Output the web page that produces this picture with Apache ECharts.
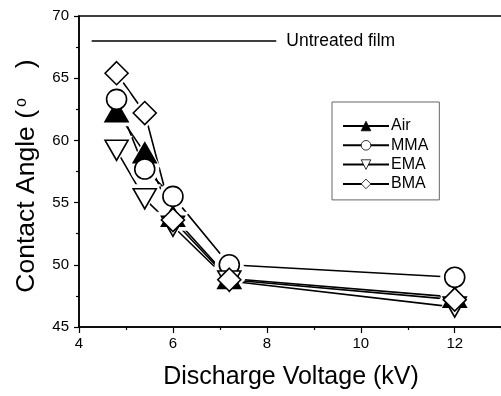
<!DOCTYPE html>
<html>
<head>
<meta charset="utf-8">
<script src="https://cdn.jsdelivr.net/npm/echarts@6/dist/echarts.min.js"></script>
<style>
  html, body { margin: 0; padding: 0; background: #fff; overflow: hidden; }
  /* the plot frame runs past the right edge of the page, so the canvas is wider than the view */
  #chart { width: 560px; height: 396px; }
</style>
</head>
<body>
<div id="chart"></div>
<script>
// Discharge voltage (kV) at which each film was treated
const voltages = [4.8, 5.4, 6.0, 7.2, 12];

// Water contact angle (degrees) per treatment gas
const airAngle = [62.3, 59.0, 53.9, 48.9, 47.4];
const mmaAngle = [63.3, 57.7, 55.5, 50.0, 49.0];
const emaAngle = [59.2, 55.3, 53.1, 48.7, 46.6];
const bmaAngle = [65.4, 62.2, 53.6, 48.8, 47.2];

// Reference level of the untreated film and the voltage span its line covers
const untreatedAngle = 68;
const untreatedSpan = [4.27, 8.2];

const seriesNames = ['Air', 'MMA', 'EMA', 'BMA'];

const FONT = 'Liberation Sans, Arial, Helvetica, sans-serif';

const groups = [
  { name: seriesNames[0], values: airAngle, symbol: 'triangle', size: [23, 20], rotate: 0,   fill: '#000' },
  { name: seriesNames[1], values: mmaAngle, symbol: 'circle',   size: 20,       rotate: 0,   fill: '#fff' },
  { name: seriesNames[2], values: emaAngle, symbol: 'triangle', size: [23, 20], rotate: 180, fill: '#fff' },
  { name: seriesNames[3], values: bmaAngle, symbol: 'diamond',  size: [23, 23], rotate: 0,   fill: '#fff' }
];

function grow(size, d) {
  return Array.isArray(size) ? [size[0] + d, size[1] + d] : size + d;
}

const series = [];

// connecting lines (these also carry the legend icons)
groups.forEach(g => {
  series.push({
    type: 'line',
    name: g.name,
    data: voltages.map((v, k) => [v, g.values[k]]),
    showSymbol: false,
    symbol: g.symbol,
    symbolRotate: g.rotate,
    symbolSize: g.size,
    lineStyle: { color: '#000', width: 1.6 },
    itemStyle: { color: g.fill, borderColor: '#000', borderWidth: 1 },
    z: 1,
    silent: true
  });
});

// white halo so each line stops short of the markers
groups.forEach(g => {
  series.push({
    type: 'scatter',
    name: g.name + '-gap',
    data: voltages.map((v, k) => [v, g.values[k]]),
    symbol: g.symbol,
    symbolRotate: g.rotate,
    symbolSize: grow(g.size, 9),
    itemStyle: { color: '#fff', opacity: 1 },
    z: 2,
    silent: true
  });
});

// markers
groups.forEach(g => {
  series.push({
    type: 'scatter',
    name: g.name + '-mark',
    data: voltages.map((v, k) => [v, g.values[k]]),
    symbol: g.symbol,
    symbolRotate: g.rotate,
    symbolSize: g.size,
    itemStyle: { color: g.fill, borderColor: '#000', borderWidth: 1.6, opacity: 1 },
    z: 3,
    silent: true
  });
});

// untreated film reference line
series.push({
  type: 'line',
  name: 'Untreated film',
  data: untreatedSpan.map(v => [v, untreatedAngle]),
  showSymbol: false,
  lineStyle: { color: '#000', width: 1.5 },
  endLabel: {
    show: true,
    formatter: 'Untreated film',
    distance: 10,
    color: '#000',
    fontFamily: FONT,
    fontSize: 17.5
  },
  z: 1,
  silent: true
});

const chart = echarts.init(document.getElementById('chart'), null, { renderer: 'canvas' });

chart.setOption({
  animation: false,
  backgroundColor: '#fff',
  grid: {
    left: 79, right: 7, top: 16, bottom: 69,
    show: true, borderColor: '#000', borderWidth: 1.5, backgroundColor: 'transparent'
  },
  legend: {
    data: seriesNames,
    orient: 'vertical',
    left: 332,
    top: 102,
    padding: [16, 11, 8, 10],
    itemWidth: 46,
    itemHeight: 12,
    itemGap: 3.3,
    borderColor: '#666',
    borderWidth: 1,
    backgroundColor: '#fff',
    selectedMode: false,
    itemStyle: { borderWidth: 0.8 },
    textStyle: { color: '#000', fontFamily: FONT, fontSize: 16, padding: [0, 0, 0, -3] }
  },
  xAxis: {
    type: 'value',
    min: 4, max: 14, interval: 2,
    axisLine: { show: true, lineStyle: { color: '#000', width: 1.5 } },
    axisTick: { show: true, inside: false, length: 6, lineStyle: { color: '#000', width: 1.2 } },
    minorTick: { show: true, splitNumber: 2, length: 3, lineStyle: { color: '#000', width: 1.2 } },
    axisLabel: { color: '#000', fontFamily: FONT, fontSize: 15, margin: 9 },
    splitLine: { show: false }
  },
  yAxis: {
    type: 'value',
    min: 45, max: 70, interval: 5,
    axisLine: { show: true, lineStyle: { color: '#000', width: 1.5 } },
    axisTick: { show: true, inside: false, length: 5, lineStyle: { color: '#000', width: 1.2 } },
    minorTick: { show: true, splitNumber: 2, length: 3, lineStyle: { color: '#000', width: 1.2 } },
    axisLabel: { color: '#000', fontFamily: FONT, fontSize: 15, margin: 10 },
    splitLine: { show: false }
  },
  graphic: [
    {
      type: 'text',
      x: 291, y: 377,
      style: {
        text: 'Discharge Voltage (kV)',
        fill: '#000',
        font: '25px ' + FONT,
        textAlign: 'center', textVerticalAlign: 'middle',
        align: 'center', verticalAlign: 'middle'
      }
    },
    {
      type: 'text',
      x: 27, y: 176,
      rotation: Math.PI / 2,
      style: {
        text: 'Contact Angle ({s|o})',
        fill: '#000',
        font: '26.5px ' + FONT,
        textAlign: 'center', textVerticalAlign: 'middle',
        align: 'center', verticalAlign: 'middle',
        rich: {
          s: { fontSize: 16, fontFamily: FONT, fill: '#000', verticalAlign: 'top', padding: [0, 30, 0, 3] }
        }
      }
    }
  ],
  series: series
});
</script>
</body>
</html>
